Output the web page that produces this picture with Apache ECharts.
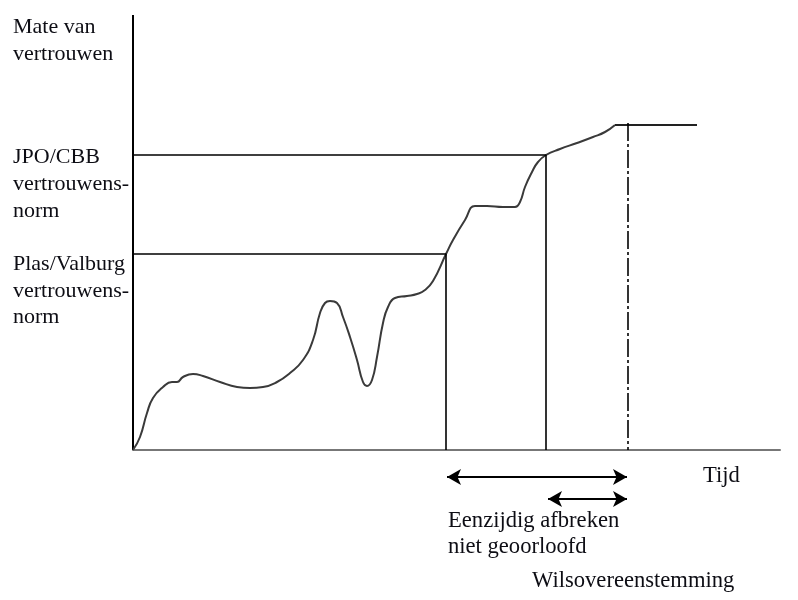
<!DOCTYPE html>
<html>
<head>
<meta charset="utf-8">
<script src="https://cdn.jsdelivr.net/npm/echarts@6/dist/echarts.min.js"></script>
<style>
html,body{margin:0;padding:0;background:#fff;}
#main{width:798px;height:600px;}
</style>
</head>
<body>
<div id="main"></div>
<script>
// Curve: time (x) vs. degree of trust (y)
var curveX = [0,7,14,20,30,39,44,50,60,70,87,104,117,130,144,157,170,180,187,192,197,204,210,217,224,230,234,239,244,250,255,262,274,284,292,300,313,320,332,342,354,370,382,387,392,399,405,413,427,444,460,472,482];
var curveY = [0,13,37,52,63,68,68,73,76,74,68,63,62,63,68,77,90,110,137,147,149,147,133,113,90,68,64,70,93,127,143,152,154,156,160,169,196,210,230,244,244,243,243,248,263,278,288,295,301,307,313,318,325];
var plateauX = [482,564];
var plateauY = 325;
// norms
var plasNorm = 196;
var jpoNorm = 295;
// moments on the time axis
var momentPlas = 313;
var momentJpo = 413;
var momentWils = 495;
var yTop = 435;
var xEnd = 647;
// arrows below the time axis: [from, to, level]
var arrowLong = [314, 494, -27];
var arrowShort = [415, 494, -49];

var curve = curveX.map(function(x,i){return [x, curveY[i]];});
var black = '#0d0d14';
var font = '"Liberation Serif","Times New Roman",serif';
var fsLeft = '22px ';
var fs = '22.6px ';

var chart = echarts.init(document.getElementById('main'), null, {renderer:'canvas'});
chart.setOption({
  animation:false,
  grid:{left:133, right:18, top:15, bottom:0},
  xAxis:{type:'value', min:0, max:xEnd, axisLine:{show:true, onZero:true, lineStyle:{color:'#777', width:2}}, axisTick:{show:false}, axisLabel:{show:false}, splitLine:{show:false}},
  yAxis:{type:'value', min:-150, max:yTop, axisLine:{show:false}, axisTick:{show:false}, axisLabel:{show:false}, splitLine:{show:false}},
  series:[
    {type:'line', data:[[0,0],[0,yTop]], showSymbol:false, lineStyle:{color:'#000', width:2}, silent:true},
    {type:'line', data:curve, smooth:0.5, showSymbol:false, lineStyle:{color:'#3a3a3a', width:2}, silent:true},
    {type:'line', data:[[plateauX[0],plateauY],[plateauX[1],plateauY]], showSymbol:false, lineStyle:{color:'#222', width:2}, silent:true},
    {type:'line', data:[[0,plasNorm],[momentPlas,plasNorm],[momentPlas,0]], showSymbol:false, lineStyle:{color:'#000', width:1.6}, silent:true},
    {type:'line', data:[[0,jpoNorm],[momentJpo,jpoNorm],[momentJpo,0]], showSymbol:false, lineStyle:{color:'#000', width:1.6}, silent:true},
    {type:'line', data:[[momentWils,plateauY+2],[momentWils,0]], showSymbol:false, lineStyle:{color:'#000', width:1.6, type:[18,3,3,3]}, silent:true},
    {type:'line', data:[], silent:true,
     markLine:{silent:true, symbol:['arrow','arrow'], symbolSize:[12,14], label:{show:false},
       lineStyle:{color:'#000', width:2, type:'solid'},
       data:[
         [{coord:[arrowLong[0],arrowLong[2]]},{coord:[arrowLong[1],arrowLong[2]]}],
         [{coord:[arrowShort[0],arrowShort[2]]},{coord:[arrowShort[1],arrowShort[2]]}]
       ]}}
  ],
  graphic:[
    {type:'text', left:13, top:14, style:{text:'Mate van\nvertrouwen', font:fsLeft+font, lineHeight:27, fill:black}},
    {type:'text', left:13, top:144, style:{text:'JPO/CBB\nvertrouwens-\nnorm', font:fsLeft+font, lineHeight:27, fill:black}},
    {type:'text', left:13, top:251, style:{text:'Plas/Valburg\nvertrouwens-\nnorm', font:fsLeft+font, lineHeight:26.5, fill:black}},
    {type:'text', left:703, top:463, style:{text:'Tijd', font:fs+font, lineHeight:27, fill:black}},
    {type:'text', left:448, top:508, style:{text:'Eenzijdig afbreken\nniet geoorloofd', font:fs+font, lineHeight:26, fill:black}},
    {type:'text', left:532, top:568, style:{text:'Wilsovereenstemming', font:fs+font, lineHeight:27, fill:black}}
  ]
});
</script>
</body>
</html>
